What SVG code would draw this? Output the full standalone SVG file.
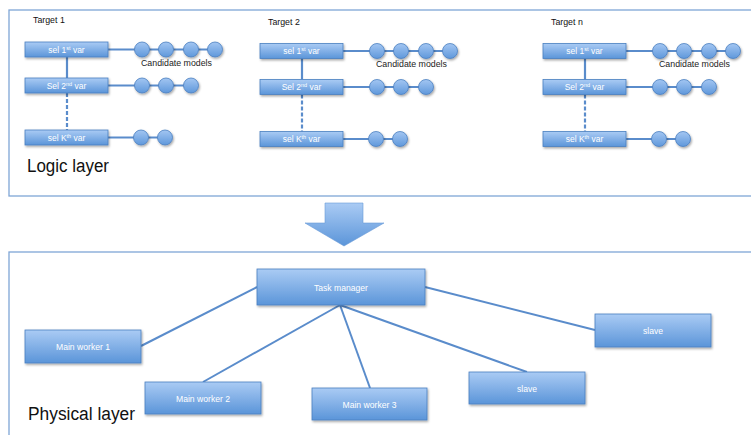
<svg xmlns="http://www.w3.org/2000/svg" width="751" height="435" viewBox="0 0 751 435">
<defs>
<linearGradient id="bg" x1="0" y1="0" x2="0" y2="1">
<stop offset="0" stop-color="#aacbf4"/>
<stop offset="1" stop-color="#5b95d9"/>
</linearGradient>
<linearGradient id="cg" x1="0" y1="0" x2="0" y2="1">
<stop offset="0" stop-color="#a3c6f2"/>
<stop offset="1" stop-color="#5f98db"/>
</linearGradient>
<filter id="sh" x="-10%" y="-10%" width="130%" height="140%">
<feDropShadow dx="1" dy="1.5" stdDeviation="1" flood-color="#000" flood-opacity="0.35"/>
</filter>
<g id="tgt">
<g class="conn">
<line x1="67" y1="57" x2="67" y2="78"/>
<line x1="67" y1="93" x2="67" y2="130" stroke-dasharray="4,2"/>
<line x1="108" y1="49.5" x2="215" y2="49.5"/>
<line x1="108" y1="85.5" x2="191" y2="85.5"/>
<line x1="108" y1="137.5" x2="165" y2="137.5"/>
</g>
<g class="box">
<rect x="25" y="42" width="83" height="15"/>
<rect x="25" y="78" width="83" height="15"/>
<rect x="25" y="130" width="83" height="15"/>
</g>
<text class="bl" x="66.5" y="52.8">sel 1<tspan font-size="5.5" dy="-3">st</tspan><tspan dy="3"> var</tspan></text>
<text class="bl" x="66.5" y="88.8">Sel 2<tspan font-size="5.5" dy="-3">nd</tspan><tspan dy="3"> var</tspan></text>
<text class="bl" x="66.5" y="140.8">sel K<tspan font-size="5.5" dy="-3">th</tspan><tspan dy="3"> var</tspan></text>
<g class="circ">
<circle cx="142" cy="49.5" r="7.5"/>
<circle cx="166" cy="49.5" r="7.5"/>
<circle cx="191" cy="49.5" r="7.5"/>
<circle cx="215" cy="49.5" r="7.5"/>
<circle cx="142" cy="85.5" r="7.5"/>
<circle cx="166" cy="85.5" r="7.5"/>
<circle cx="191" cy="85.5" r="7.5"/>
<circle cx="141" cy="137.5" r="7.5"/>
<circle cx="165" cy="137.5" r="7.5"/>
</g>
<text class="cm" x="141" y="65.5">Candidate models</text>
</g>
</defs>
<style>
.frame{fill:#fff;stroke:#7fa6d6;stroke-width:1.3}
.conn line{stroke:#5a8ccb;stroke-width:2.2}
.box rect,.node rect{fill:url(#bg);stroke:#4a7fc0;stroke-width:0.8;filter:url(#sh)}
.circ circle{fill:url(#cg);stroke:#4a7fc0;stroke-width:0.8;filter:url(#sh)}
.bl{font-family:"Liberation Sans",Arial,sans-serif;font-size:8.5px;fill:#fff;text-anchor:middle}
.cm{font-family:"Liberation Sans",Arial,sans-serif;font-size:8.8px;fill:#222}
.tl{font-family:"Liberation Sans",Arial,sans-serif;font-size:8.8px;fill:#111}
.big{font-family:"Liberation Sans",Arial,sans-serif;font-size:18px;fill:#111}
.nl{font-family:"Liberation Sans",Arial,sans-serif;font-size:8.6px;fill:#fff;text-anchor:middle}
.links line{stroke:#5a8ccb;stroke-width:2}
</style>
<rect x="0" y="0" width="751" height="435" fill="#fff"/>
<g id="logic-layer">
<rect class="frame" x="9" y="10" width="750" height="186"/>
<g id="target1">
<text class="tl" x="33" y="23">Target 1</text>
<use href="#tgt"/>
</g>
<g id="target2">
<text class="tl" x="268" y="24.5">Target 2</text>
<use href="#tgt" transform="translate(235,1.5)"/>
</g>
<g id="targetn">
<text class="tl" x="551" y="24.5">Target n</text>
<use href="#tgt" transform="translate(518,1.5)"/>
</g>
<text class="big" x="27" y="172" textLength="82" lengthAdjust="spacingAndGlyphs">Logic layer</text>
</g>
<g id="arrow">
<polygon points="325,203 363,203 363,223 384,223 344,246 305,223 325,223" fill="url(#bg)" stroke="#6a9ad6" stroke-width="0.6"/>
</g>
<rect class="frame" x="9" y="252" width="750" height="200"/>
<text class="big" x="28" y="420" textLength="107" lengthAdjust="spacingAndGlyphs">Physical layer</text>
<g class="links" id="connectors">
<line x1="257" y1="287" x2="141" y2="346"/>
<line x1="340" y1="305" x2="203" y2="382"/>
<line x1="340" y1="305" x2="370" y2="388"/>
<line x1="340" y1="305" x2="527" y2="372"/>
<line x1="425" y1="287" x2="595" y2="330"/>
</g>
<g class="node" id="task-manager">
<rect x="257" y="269" width="168" height="36"/>
<text class="nl" x="341" y="290.5">Task manager</text>
</g>
<g class="node" id="main-worker-1">
<rect x="25" y="330" width="116" height="33"/>
<text class="nl" x="83" y="349.5">Main worker 1</text>
</g>
<g class="node" id="main-worker-2">
<rect x="145" y="382" width="116" height="32"/>
<text class="nl" x="203" y="401.5">Main worker  2</text>
</g>
<g class="node" id="main-worker-3">
<rect x="312" y="388" width="115" height="32"/>
<text class="nl" x="369.5" y="407.5">Main worker 3</text>
</g>
<g class="node" id="slave-1">
<rect x="469" y="372" width="116" height="32"/>
<text class="nl" x="527" y="391.5">slave</text>
</g>
<g class="node" id="slave-2">
<rect x="595" y="314" width="116" height="33"/>
<text class="nl" x="653" y="333.5">slave</text>
</g>
</svg>
